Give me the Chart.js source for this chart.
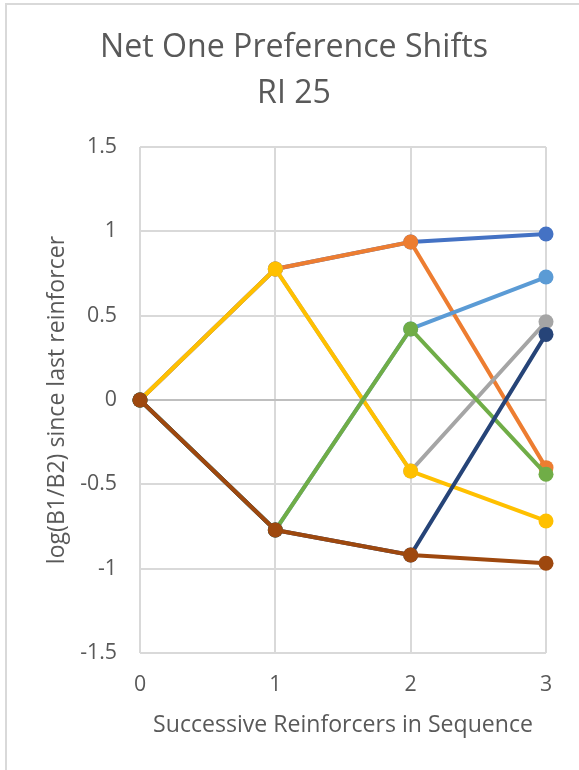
<!DOCTYPE html>
<html>
<head>
<meta charset="utf-8">
<title>Net One Preference Shifts – RI 25</title>
<script src="https://cdn.jsdelivr.net/npm/chart.js@4/dist/chart.umd.min.js"></script>
<style>
  html, body { margin: 0; padding: 0; background: #fff; overflow: hidden; }
  #wrap { position: relative; width: 579px; height: 770px; }
  #frame { position: absolute; left: 5px; top: 3px; width: 640px; height: 820px;
           border: 2px solid #d9d9d9; box-sizing: border-box; pointer-events: none; }
  canvas { position: absolute; left: 0; top: 0; }
</style>
</head>
<body>
<div id="wrap">
  <canvas id="chart" width="579" height="770"></canvas>
  <div id="frame"></div>
</div>
<script>
// Sequence positions (x) and tick settings
const steps = [0, 1, 2, 3];
const yMin = -1.5, yMax = 1.5, yStep = 0.5;

// Title and axis text
const titleLines = ['Net One Preference Shifts', 'RI 25'];
const xTitle = 'Successive Reinforcers in Sequence';
const yTitle = 'log(B1/B2) since last reinforcer';

// One path per branch of the preference tree
const seriesBlue      = [0, 0.777, 0.937, 0.984];
const seriesOrange    = [0, 0.777, 0.937, -0.401];
const seriesGray      = [0, 0.777, -0.421, 0.464];
const seriesGold      = [0, 0.777, -0.421, -0.717];
const seriesLightBlue = [0, -0.771, 0.421, 0.729];
const seriesGreen     = [0, -0.771, 0.421, -0.440];
const seriesDarkBlue  = [0, -0.771, -0.919, 0.389];
const seriesBrown     = [0, -0.771, -0.919, -0.968];

const seriesList = [seriesBlue, seriesOrange, seriesGray, seriesGold,
                    seriesLightBlue, seriesGreen, seriesDarkBlue, seriesBrown];
const palette = ['#4472C4', '#ED7D31', '#A5A5A5', '#FFC000',
                 '#5B9BD5', '#70AD47', '#264478', '#9E480E'];

const FAMILY = '"Open Sans", "Liberation Sans", sans-serif';
const TEXT = '#595959';

// Size a font so a string spans a given width
function fitSize(text, width) {
  const c = document.createElement('canvas').getContext('2d');
  c.font = '100px ' + FAMILY;
  return 100 * width / c.measureText(text).width;
}
const titleSize = fitSize(titleLines[0], 388);
const axisTitleSize = fitSize(xTitle, 380);
const tickSize = fitSize('0.5', 30);

const datasets = seriesList.map((vals, i) => ({
  label: 'Series' + (i + 1),
  data: steps.map((x, j) => ({ x: x, y: vals[j] })),
  borderColor: palette[i],
  backgroundColor: palette[i],
  pointBackgroundColor: palette[i],
  pointBorderWidth: 0,
  pointRadius: 7.5,
  pointHoverRadius: 7.5,
  borderWidth: 4,
  tension: 0,
  clip: false,
  order: seriesList.length - i
}));

new Chart(document.getElementById('chart'), {
  type: 'line',
  data: { datasets },
  options: {
    responsive: false,
    animation: false,
    events: [],
    layout: { padding: { left: 9, right: 0, top: 0, bottom: 0 } },
    plugins: {
      legend: { display: false },
      tooltip: { enabled: false },
      title: {
        display: true,
        text: titleLines,
        color: TEXT,
        font: { family: FAMILY, size: titleSize, weight: 'normal', lineHeight: 46 / titleSize },
        padding: { top: 25, bottom: 30 }
      }
    },
    scales: {
      x: {
        type: 'linear',
        min: steps[0],
        max: steps[steps.length - 1],
        ticks: { stepSize: 1, color: TEXT, padding: 19,
                 font: { family: FAMILY, size: tickSize } },
        grid: { color: '#d9d9d9', lineWidth: 2, drawTicks: false },
        border: { display: false },
        title: { display: true, text: xTitle, color: TEXT,
                 font: { family: FAMILY, size: axisTitleSize },
                 padding: { top: 0, bottom: 31 } },
        afterFit: s => { s.height = 117; }
      },
      y: {
        min: yMin,
        max: yMax,
        ticks: { stepSize: yStep, color: TEXT, padding: 23,
                 font: { family: FAMILY, size: tickSize },
                 callback: v => String(Number(v)) },
        grid: {
          color: c => (c.tick && c.tick.value === 0) ? '#bfbfbf' : '#d9d9d9',
          lineWidth: 2,
          drawTicks: false
        },
        border: { display: false },
        title: { display: true, text: yTitle, color: TEXT,
                 font: { family: FAMILY, size: axisTitleSize },
                 padding: { top: 35, bottom: 0 } },
        afterFit: s => { s.width = 131; }
      },
      // empty right-hand strip that reserves the margin beside the plot
      gap: {
        type: 'linear',
        position: 'right',
        display: true,
        ticks: { display: false },
        grid: { display: false, drawTicks: false },
        border: { display: false },
        afterFit: s => { s.width = 33; }
      }
    }
  }
});
</script>
</body>
</html>
